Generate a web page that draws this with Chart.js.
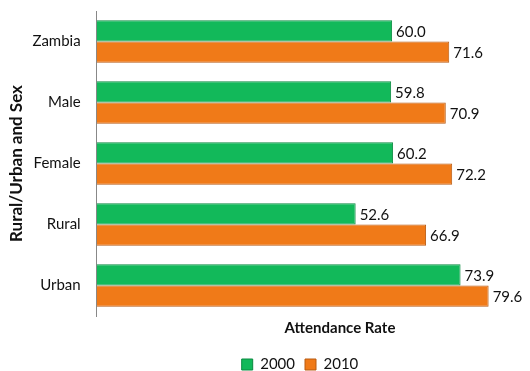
<!DOCTYPE html>
<html>
<head>
<meta charset="utf-8">
<script src="https://cdn.jsdelivr.net/npm/chart.js@4"></script>
<style>
  html, body { margin: 0; padding: 0; background: #fff; }
  #wrap { width: 530px; height: 371px; }
</style>
</head>
<body>
<div id="wrap"><canvas id="myChart"></canvas></div>
<script>
const categories = ['Zambia', 'Male', 'Female', 'Rural', 'Urban'];
const rate2000 = [60.0, 59.8, 60.2, 52.6, 73.9];
const rate2010 = [71.6, 70.9, 72.2, 66.9, 79.6];
const seriesNames = ['2000', '2010'];

// value labels at the end of each bar
const barLabels = {
  id: 'barLabels',
  afterDatasetsDraw(chart) {
    const ctx = chart.ctx;
    ctx.save();
    ctx.font = '15px Lato';
    ctx.fillStyle = '#111';
    ctx.textBaseline = 'middle';
    chart.data.datasets.forEach((ds, i) => {
      chart.getDatasetMeta(i).data.forEach((bar, j) => {
        ctx.fillText(ds.data[j].toFixed(1), bar.x + 4, bar.y + 1);
      });
    });
    ctx.restore();
  }
};

// the original has its axis title and legend off centre, to the right
const nudgeBottom = {
  id: 'nudgeBottom',
  afterUpdate(chart) {
    chart.legend.left += 70;
    chart.titleBlock.left += 150;
  }
};

var ctx = document.getElementById('myChart').getContext('2d');
var chart = new Chart(ctx, {
  type: 'bar',
  data: {
    labels: categories,
    datasets: [
      {
        label: seriesNames[0],
        data: rate2000,
        backgroundColor: '#12b95a',
        borderColor: '#0a8a40',
        borderWidth: 1,
        categoryPercentage: 0.7,
        barPercentage: 1
      },
      {
        label: seriesNames[1],
        data: rate2010,
        backgroundColor: '#f07a18',
        borderColor: '#b85a10',
        borderWidth: 1,
        categoryPercentage: 0.7,
        barPercentage: 1
      }
    ]
  },
  options: {
    indexAxis: 'y',
    responsive: true,
    maintainAspectRatio: false,
    animation: false,
    layout: { padding: 0 },
    plugins: {
      title: {
        display: true,
        position: 'bottom',
        weight: 500,
        text: 'Attendance Rate',
        color: '#111',
        font: { family: 'Lato', size: 15, weight: 'bold' },
        padding: { top: 3, bottom: 10 }
      },
      legend: {
        position: 'bottom',
        maxHeight: 24,
        labels: {
          boxWidth: 11,
          boxHeight: 11,
          padding: 10,
          color: '#111',
          font: { family: 'Lato', size: 15, lineHeight: 1 }
        }
      },
      tooltip: { enabled: false }
    },
    scales: {
      x: {
        min: 0,
        max: 88,
        grid: { display: false, drawTicks: false },
        border: { display: false },
        ticks: { display: false }
      },
      y: {
        grid: { display: true, drawOnChartArea: false, drawTicks: true, tickLength: 14, color: 'rgba(0,0,0,0)' },
        border: { display: true, color: '#888' },
        ticks: {
          color: '#111',
          padding: 2,
          font: { family: 'Lato', size: 15 }
        },
        title: {
          display: true,
          text: 'Rural/Urban and Sex',
          color: '#111',
          font: { family: 'Lato', size: 17, weight: 'bold' },
          padding: { top: 6, bottom: 4 }
        }
      }
    }
  },
  plugins: [barLabels, nudgeBottom]
});
</script>
</body>
</html>
